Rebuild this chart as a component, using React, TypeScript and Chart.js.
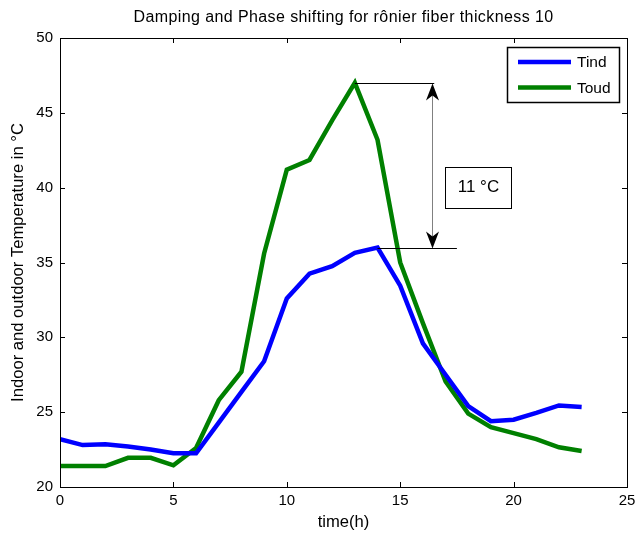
import React, { useEffect, useRef } from 'react';
import { Chart, registerables } from 'chart.js';

Chart.register(...registerables);

const HOURS = [0, 1, 2, 3, 4, 5, 6, 7, 8, 9, 10, 11, 12, 13, 14, 15, 16, 17, 18, 19, 20, 21, 22, 23];
const TIND = [23.2, 22.8, 22.85, 22.7, 22.5, 22.25, 22.25, 24.3, 26.35, 28.4, 32.6, 34.25, 34.75, 35.65, 36.0, 33.45, 29.6, 27.5, 25.4, 24.4, 24.5, 24.95, 25.45, 25.35];
const TOUD = [21.4, 21.4, 21.4, 21.95, 21.95, 21.45, 22.6, 25.8, 27.7, 35.6, 41.2, 41.85, 44.5, 47.0, 43.2, 35.0, 30.95, 27.05, 24.9, 24.0, 23.6, 23.2, 22.65, 22.4];
const X_TICKS = [0, 5, 10, 15, 20, 25];
const Y_TICKS = [20, 25, 30, 35, 40, 45, 50];
const SERIES_NAMES = ['Tind', 'Toud'];
const TITLE = 'Damping and Phase shifting for rônier fiber thickness 10';
const X_LABEL = 'time(h)';
const Y_LABEL = 'Indoor and outdoor Temperature in °C';
const DELTA_LABEL = '11 °C';

// annotation anchors in data units
const ARROW_X = 16.42;
const UPPER_LINE_END = 16.5;
const LOWER_LINE_END = 17.5;
const LABEL_X = 18.45;
const LABEL_Y = 40.0;

const FONT = '"Liberation Sans", Arial, Helvetica, sans-serif';

function arrowHead(ctx: CanvasRenderingContext2D, x: number, y: number, dir: number) {
  // dir = 1 points up (tip at y), -1 points down
  const len = 17, half = 6.5, notch = 12;
  ctx.beginPath();
  ctx.moveTo(x, y);
  ctx.lineTo(x - half, y + dir * len);
  ctx.lineTo(x, y + dir * notch);
  ctx.lineTo(x + half, y + dir * len);
  ctx.closePath();
  ctx.fill();
}

const matlabPlugin = {
  id: 'matlabDecor',
  afterDatasetsDraw(chart: any) {
    const ctx: CanvasRenderingContext2D = chart.ctx;
    const { left, right, top, bottom } = chart.chartArea;
    const xs = chart.scales.x;
    const ys = chart.scales.y;
    ctx.save();

    // box
    ctx.strokeStyle = '#000';
    ctx.lineWidth = 1;
    ctx.strokeRect(Math.round(left) + 0.5, Math.round(top) + 0.5, Math.round(right - left), Math.round(bottom - top));

    // inner ticks
    ctx.beginPath();
    X_TICKS.forEach((v) => {
      const px = Math.round(xs.getPixelForValue(v)) + 0.5;
      ctx.moveTo(px, bottom);
      ctx.lineTo(px, bottom - 5);
      ctx.moveTo(px, top);
      ctx.lineTo(px, top + 5);
    });
    Y_TICKS.forEach((v) => {
      const py = Math.round(ys.getPixelForValue(v)) + 0.5;
      ctx.moveTo(left, py);
      ctx.lineTo(left + 5, py);
      ctx.moveTo(right, py);
      ctx.lineTo(right - 5, py);
    });
    ctx.stroke();

    // annotation
    const iOut = TOUD.indexOf(Math.max(...TOUD));
    const iIn = TIND.indexOf(Math.max(...TIND));
    const yUp = Math.round(ys.getPixelForValue(TOUD[iOut])) + 0.5;
    const yLo = Math.round(ys.getPixelForValue(TIND[iIn])) + 0.5;
    const ax = Math.round(xs.getPixelForValue(ARROW_X)) + 0.5;

    ctx.strokeStyle = '#000';
    ctx.beginPath();
    ctx.moveTo(xs.getPixelForValue(HOURS[iOut]), yUp);
    ctx.lineTo(xs.getPixelForValue(UPPER_LINE_END), yUp);
    ctx.moveTo(xs.getPixelForValue(HOURS[iIn]), yLo);
    ctx.lineTo(xs.getPixelForValue(LOWER_LINE_END), yLo);
    ctx.stroke();

    ctx.strokeStyle = '#808080';
    ctx.beginPath();
    ctx.moveTo(ax, yUp + 10);
    ctx.lineTo(ax, yLo - 10);
    ctx.stroke();
    ctx.fillStyle = '#000';
    arrowHead(ctx, ax, yUp, 1);
    arrowHead(ctx, ax, yLo, -1);

    // text box
    const cx = xs.getPixelForValue(LABEL_X);
    const cy = ys.getPixelForValue(LABEL_Y);
    const bw = 66, bh = 41;
    ctx.fillStyle = '#fff';
    ctx.fillRect(Math.round(cx - bw / 2), Math.round(cy - bh / 2), bw, bh);
    ctx.strokeStyle = '#000';
    ctx.lineWidth = 1;
    ctx.strokeRect(Math.round(cx - bw / 2) + 0.5, Math.round(cy - bh / 2) + 0.5, bw, bh);
    ctx.fillStyle = '#000';
    ctx.font = `17px ${FONT}`;
    ctx.textAlign = 'center';
    ctx.textBaseline = 'middle';
    ctx.fillText(DELTA_LABEL, cx, cy);

    // legend
    const lw = 112, lh = 55;
    const lx = Math.round(right) - 8 - lw;
    const ly = Math.round(top) + 9;
    ctx.fillStyle = '#fff';
    ctx.fillRect(lx, ly, lw, lh);
    ctx.strokeStyle = '#000';
    ctx.lineWidth = 1.5;
    ctx.strokeRect(lx + 0.5, ly + 0.5, lw, lh);
    chart.data.datasets.forEach((ds: any, i: number) => {
      const yy = ly + 15 + i * 25.5;
      ctx.strokeStyle = ds.borderColor;
      ctx.lineWidth = ds.borderWidth;
      ctx.beginPath();
      ctx.moveTo(lx + 11, yy);
      ctx.lineTo(lx + 64, yy);
      ctx.stroke();
      ctx.fillStyle = '#000';
      ctx.textAlign = 'left';
      ctx.textBaseline = 'middle';
      ctx.font = `15.5px ${FONT}`;
      ctx.fillText(ds.label, lx + 70, yy + 1);
    });

    // title
    ctx.fillStyle = '#000';
    ctx.font = `16px ${FONT}`;
    (ctx as any).letterSpacing = '0.4px';
    ctx.textAlign = 'center';
    ctx.textBaseline = 'middle';
    ctx.fillText(TITLE, (left + right) / 2, 18);
    (ctx as any).letterSpacing = '0px';

    ctx.restore();
  },
};

export default function App() {
  const ref = useRef<HTMLCanvasElement | null>(null);

  useEffect(() => {
    if (!ref.current) return;
    const colors = ['#0000ff', '#008000'];
    const series = [TIND, TOUD];
    const chart = new Chart(ref.current, {
      type: 'line',
      data: {
        datasets: series.map((s, i) => ({
          label: SERIES_NAMES[i],
          data: HOURS.map((h, j) => ({ x: h, y: s[j] })),
          borderColor: colors[i],
          backgroundColor: colors[i],
          borderWidth: 4.5,
          pointRadius: 0,
          tension: 0,
          fill: false,
          borderJoinStyle: 'miter' as const,
        })),
      },
      options: {
        responsive: false,
        animation: false,
        events: [],
        layout: { padding: { top: 38, right: 11, left: 0, bottom: 0 } },
        plugins: {
          legend: { display: false },
          title: { display: false },
          tooltip: { enabled: false },
        },
        scales: {
          x: {
            type: 'linear',
            min: 0,
            max: 25,
            grid: { display: false, drawTicks: false },
            border: { display: false },
            ticks: {
              stepSize: 5,
              padding: 5,
              color: '#000',
              maxRotation: 0,
              font: { family: FONT, size: 15 },
            },
            title: {
              display: true,
              text: X_LABEL,
              color: '#000',
              font: { family: FONT, size: 16.6 },
              padding: { top: 0, bottom: 6 },
            },
            afterFit: (s: any) => {
              s.height = 51;
              s.paddingLeft = 0;
              s.paddingRight = 0;
            },
          },
          y: {
            type: 'linear',
            min: 20,
            max: 50,
            grid: { display: false, drawTicks: false },
            border: { display: false },
            ticks: {
              stepSize: 5,
              padding: 7,
              color: '#000',
              font: { family: FONT, size: 15 },
            },
            title: {
              display: true,
              text: Y_LABEL,
              color: '#000',
              font: { family: FONT, size: 16.6 },
              padding: { top: 8, bottom: 0 },
            },
            afterFit: (s: any) => {
              s.width = 60;
              s.paddingTop = 0;
              s.paddingBottom = 0;
            },
          },
        },
      },
      plugins: [matlabPlugin],
    });
    return () => chart.destroy();
  }, []);

  return (
    <div style={{ position: 'fixed', left: 0, top: 0, width: 638, height: 538, background: '#fff' }}>
      <canvas ref={ref} width={638} height={538} style={{ width: 638, height: 538, display: 'block' }} />
    </div>
  );
}
